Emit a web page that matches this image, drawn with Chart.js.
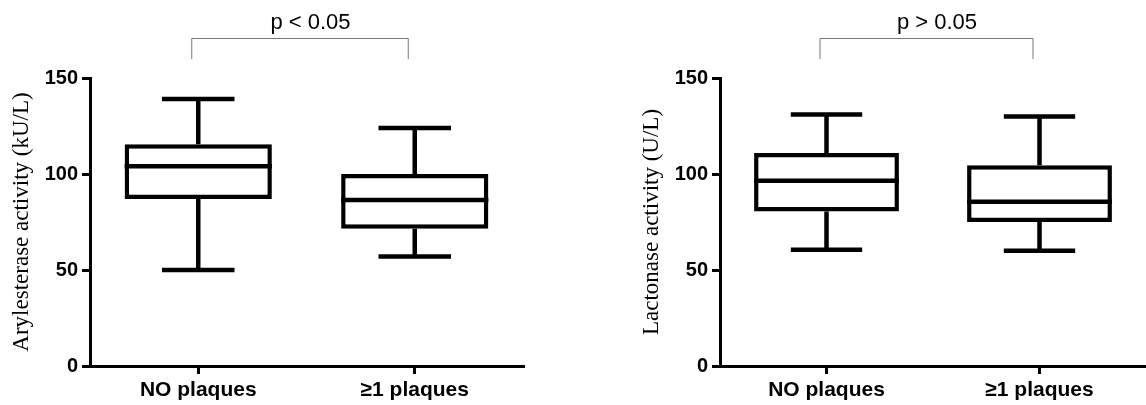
<!DOCTYPE html>
<html>
<head>
<meta charset="utf-8">
<script src="https://cdn.jsdelivr.net/npm/chart.js@4/dist/chart.umd.min.js"></script>
<style>
    body { margin: 0; background: #fff; }
    .wrap { display: flex; width: 1146px; height: 405px; }
    .panel { width: 573px; height: 405px; }
</style>
</head>
<body>
<div class="wrap">
    <div class="panel"><canvas id="arylChart" width="573" height="405"></canvas></div>
    <div class="panel"><canvas id="lactChart" width="573" height="405"></canvas></div>
</div>
<script>
// Groups and tick values
const groups = ['NO plaques', '\u22651 plaques'];
const yTicks = [0, 50, 100, 150];

// Arylesterase activity (kU/L) - box plot stats
const arylMin = [50, 57];
const arylQ1 = [87, 71.5];
const arylMedian = [104, 86.5];
const arylQ3 = [115.5, 100];
const arylMax = [139, 124];
const arylP = 'p < 0.05';

// Lactonase activity (U/L) - box plot stats
const lactMin = [60.5, 60];
const lactQ1 = [80.5, 75];
const lactMedian = [96.5, 85.5];
const lactQ3 = [111, 104.5];
const lactMax = [131, 130];
const lactP = 'p > 0.05';

const SANS = "'Liberation Sans', Arial, sans-serif";
const SERIF = "'Liberation Serif', 'Times New Roman', serif";

// Whiskers, medians and the significance bracket
const boxPlotPlugin = {
    id: 'boxPlot',
    afterDatasetsDraw(chart) {
        const stats = chart.options.plugins.boxPlot;
        const x = chart.scales.x;
        const y = chart.scales.y;
        const meta = chart.getDatasetMeta(0);
        const ctx = chart.ctx;
        const catWidth = x.width / groups.length;
        const capHalf = catWidth * 0.335 / 2;

        ctx.save();
        ctx.strokeStyle = '#000';
        ctx.lineWidth = 4.5;
        ctx.lineCap = 'butt';
        groups.forEach((g, i) => {
            const cx = x.getPixelForValue(i);
            const bar = meta.data[i];
            const half = bar.width / 2;
            ctx.beginPath();
            // upper whisker + cap
            ctx.moveTo(cx, y.getPixelForValue(stats.q3[i]));
            ctx.lineTo(cx, y.getPixelForValue(stats.max[i]));
            ctx.moveTo(cx - capHalf, y.getPixelForValue(stats.max[i]));
            ctx.lineTo(cx + capHalf, y.getPixelForValue(stats.max[i]));
            // lower whisker + cap
            ctx.moveTo(cx, y.getPixelForValue(stats.q1[i]));
            ctx.lineTo(cx, y.getPixelForValue(stats.min[i]));
            ctx.moveTo(cx - capHalf, y.getPixelForValue(stats.min[i]));
            ctx.lineTo(cx + capHalf, y.getPixelForValue(stats.min[i]));
            // median
            ctx.moveTo(cx - half, y.getPixelForValue(stats.median[i]));
            ctx.lineTo(cx + half, y.getPixelForValue(stats.median[i]));
            ctx.stroke();
        });

        // bracket above the plot
        const x1 = x.getPixelForValue(0) - 7;
        const x2 = x.getPixelForValue(1) - 7;
        const top = chart.chartArea.top;
        ctx.strokeStyle = '#777';
        ctx.lineWidth = 1;
        ctx.beginPath();
        ctx.moveTo(x1 + 0.5, top - 19);
        ctx.lineTo(x1 + 0.5, top - 39.5);
        ctx.lineTo(x2 + 0.5, top - 39.5);
        ctx.lineTo(x2 + 0.5, top - 19);
        ctx.stroke();

        ctx.fillStyle = '#000';
        ctx.font = '22px ' + SANS;
        ctx.textAlign = 'center';
        ctx.textBaseline = 'alphabetic';
        ctx.fillText(stats.p, (x1 + x2) / 2 + 11, top - 49);
        ctx.restore();
    }
};

function makeChart(id, title, stats, yWidth, titleOffset, rightPad) {
    const ctx = document.getElementById(id).getContext('2d');
    return new Chart(ctx, {
        type: 'bar',
        data: {
            labels: groups,
            datasets: [{
                data: stats.q1.map((v, i) => [v, stats.q3[i]]),
                backgroundColor: '#fff',
                borderColor: '#000',
                borderWidth: 4.5,
                borderSkipped: false,
                barPercentage: 0.68,
                categoryPercentage: 1
            }]
        },
        options: {
            responsive: false,
            animation: false,
            layout: { padding: { left: 0, top: 78, right: rightPad, bottom: 0 } },
            plugins: {
                legend: { display: false },
                tooltip: { enabled: false },
                boxPlot: stats
            },
            scales: {
                x: {
                    offset: true,
                    afterFit: (s) => { s.height = 39; },
                    grid: {
                        display: true,
                        offset: false,
                        drawOnChartArea: false,
                        tickLength: 8,
                        color: '#000',
                        lineWidth: 3
                    },
                    border: { display: true, color: '#000', width: 3 },
                    ticks: {
                        color: '#000',
                        padding: 4,
                        font: { family: SANS, size: 21, weight: 'bold' }
                    }
                },
                y: {
                    min: 0,
                    max: 150,
                    afterBuildTicks: (s) => { s.ticks = yTicks.map(v => ({ value: v })); },
                    afterFit: (s) => { s.width = yWidth; },
                    grid: {
                        display: true,
                        drawOnChartArea: false,
                        tickLength: 8,
                        color: '#000',
                        lineWidth: 3
                    },
                    border: { display: true, color: '#000', width: 3 },
                    ticks: {
                        color: '#000',
                        padding: 4,
                        font: { family: SANS, size: 20, weight: 'bold' }
                    },
                    title: {
                        display: true,
                        text: title,
                        color: '#000',
                        padding: { top: titleOffset, bottom: 0 },
                        font: { family: SERIF, size: 23, weight: 'normal' }
                    }
                }
            }
        },
        plugins: [boxPlotPlugin]
    });
}

makeChart('arylChart', 'Arylesterase activity (kU/L)', {
    min: arylMin, q1: arylQ1, median: arylMedian, q3: arylQ3, max: arylMax, p: arylP
}, 90, 8, 50);

makeChart('lactChart', 'Lactonase activity (U/L)', {
    min: lactMin, q1: lactQ1, median: lactMedian, q3: lactQ3, max: lactMax, p: lactP
}, 147, 65, 0);
</script>
</body>
</html>
